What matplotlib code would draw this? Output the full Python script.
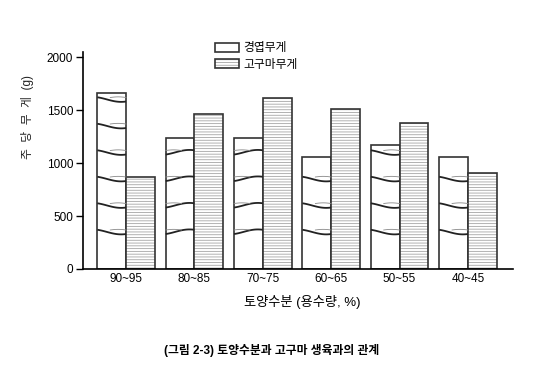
import numpy as np
import matplotlib.pyplot as plt

plt.rcParams['font.family'] = ['Liberation Sans', 'Noto Sans CJK KR', 'DejaVu Sans']
plt.rcParams['hatch.linewidth'] = 0.6

categories = ['90~95', '80~85', '70~75', '60~65', '50~55', '40~45']
leaf_weight = [1660, 1240, 1240, 1060, 1170, 1060]
root_weight = [870, 1460, 1610, 1510, 1380, 910]
curve_levels = [350, 600, 850, 1100, 1350, 1600]
curve_dirs = [-1, 1, 1, -1, -1, -1]

fig = plt.figure(figsize=(5.44, 3.85), dpi=100)
ax = fig.add_axes([0.1526, 0.3013, 0.7904, 0.5644])

x = np.arange(len(categories))
w = 0.42
leaf = ax.bar(x - w / 2, leaf_weight, w, color='white', edgecolor='#333333', linewidth=1.2)
root_h = ax.bar(x + w / 2, root_weight, w, color='white', edgecolor='#a5a5a5', linewidth=0,
                hatch='------')
root_o = ax.bar(x + w / 2, root_weight, w, fill=False, edgecolor='#333333', linewidth=1.2)

# wavy leaf lines inside the white bars
t = np.linspace(0, 1, 30)
for i, top in enumerate(leaf_weight):
    x0 = x[i] - w
    for lv in curve_levels:
        if lv > top - 40:
            continue
        d = curve_dirs[i]
        y = lv + d * (-20 * np.cos(np.pi * t) + 12 * np.sin(np.pi * t))
        ax.plot(x0 + t * w, y, color='#222222', lw=1.3, solid_capstyle='butt')
        t2 = np.linspace(0.45, 1, 15) if d < 0 else np.linspace(0, 0.55, 15)
        ax.plot(x0 + t2 * w, lv + 18 + 6 * np.sin(np.pi * (t2 - t2[0]) / (t2[-1] - t2[0])),
                color='#888888', lw=0.6)

ax.set_xlim(-0.63, 5.66)
ax.set_ylim(0, 2050)
ax.set_yticks([0, 500, 1000, 1500, 2000])
ax.set_xticks(x)
ax.set_xticklabels(categories)
ax.tick_params(axis='x', length=0, pad=3, labelsize=8.5)
ax.tick_params(axis='y', direction='out', length=5, width=1, pad=2, labelsize=8.5)
for s in ['top', 'right']:
    ax.spines[s].set_visible(False)
ax.spines['left'].set_linewidth(1.2)
ax.spines['bottom'].set_linewidth(1.2)

ax.set_ylabel('주  당  무  게  (g)', fontsize=8.5, color='#222222')
ax.yaxis.set_label_coords(-0.115, 0.70)
fig.text(0.556, 0.215, '토양수분 (용수량, %)', ha='center', va='center', fontsize=9.5)
fig.text(0.5, 0.09, '(그림 2-3) 토양수분과 고구마 생육과의 관계', ha='center', va='center',
         fontsize=8.5, fontweight='bold')

ax.legend([leaf, (root_h, root_o)], ['경엽무게', '고구마무게'],
          loc='upper left', bbox_to_anchor=(0.385, 0.905), bbox_transform=fig.transFigure,
          frameon=False, fontsize=8.5, handlelength=2.0, handleheight=0.8,
          labelspacing=0.35, handletextpad=0.4, borderpad=0)

fig.savefig('out.png', dpi=100)
